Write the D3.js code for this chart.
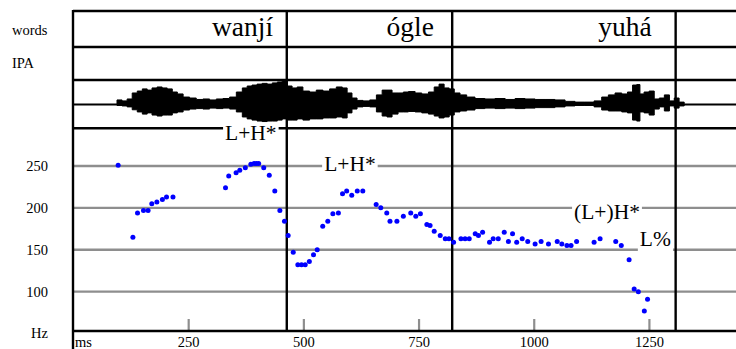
<!DOCTYPE html>
<html>
<head>
<meta charset="utf-8">
<script src="https://cdn.jsdelivr.net/npm/d3@7"></script>
<style>
  body { margin: 0; background: #fff; }
  svg { display: block; }
  text { font-family: "Liberation Serif", "Times New Roman", serif; fill: #000; }
</style>
</head>
<body>
<svg id="chart" width="736" height="349"></svg>
<script>
// ---- data ----
// word tier
const wordLabels = ["wanjí", "ógle", "yuhá"];
const wordCentersMs = [368, 732, 1198];
const wordBoundariesMs = [464, 823, 1308];

// tone labels (ToBI), placed at time / pitch
const toneLabels = ["L+H*", "L+H*", "(L+)H*", "L%"];
const toneMs = [386, 601, 1159, 1264];
const toneHz = [290, 253, 195, 162.5];

// pitch track (ms, Hz)
const pitchMs = [98, 130, 140, 153, 163, 171, 182, 194, 203, 217,
  331, 338, 354, 362, 374, 386, 393, 398, 403, 414, 426, 438, 449, 459, 467, 478,
  488, 496, 504, 513, 522, 530, 542, 553, 564, 576, 585, 594, 605, 617, 629,
  658, 668, 681, 688, 703, 717, 733, 744, 754, 768, 775, 784, 797, 808, 816, 826,
  842, 851, 860, 873, 880, 889, 904, 912, 923, 936, 945, 954, 963, 975, 987,
  1003, 1016, 1032, 1051, 1061, 1072, 1081, 1093, 1131, 1144, 1178, 1190,
  1207, 1218, 1227, 1240, 1247];
const pitchHz = [251, 165, 194, 197, 197, 205, 207, 210, 213, 213,
  224, 238, 242, 245, 248, 252, 253, 253, 253, 248, 239, 220, 197, 184, 167, 147,
  132, 132, 132, 136, 144, 150, 178, 184, 193, 194, 217, 220, 215, 220, 220,
  204, 200, 194, 184, 184, 190, 194, 190, 193, 180, 179, 172, 167, 163, 163, 159,
  163, 163, 163, 169, 167, 171, 159, 163, 163, 171, 160, 169, 159, 163, 160,
  157, 160, 157, 160, 157, 155, 155, 160, 159, 163, 160, 155,
  138, 103, 100, 77, 91];

// waveform envelope (ms, positive / negative peak, % of full scale)
const waveMs = [90, 101, 112, 123, 134, 145, 156, 166, 177, 188,
  199, 210, 221, 232, 246, 260, 275, 289, 304, 318,
  333, 347, 362, 373, 383, 394, 405, 416, 427, 438,
  449, 459, 470, 481, 492, 506, 521, 535, 550, 564,
  579, 590, 600, 611, 622, 637, 651, 666, 676, 687,
  698, 713, 721, 735, 750, 764, 779, 789, 800, 811,
  822, 833, 847, 862, 883, 905, 927, 949, 970, 992,
  1014, 1035, 1057, 1079, 1100, 1122, 1140, 1155, 1169, 1184,
  1198, 1209, 1220, 1227, 1234, 1245, 1256, 1267, 1278, 1289,
  1300, 1310, 1321, 1332];
const waveUp = [0, 19, 15, 23, 48, 56, 65, 60, 69, 73,
  69, 65, 52, 44, 31, 27, 21, 23, 19, 23,
  25, 31, 52, 69, 77, 81, 85, 88, 85, 90,
  94, 100, 77, 69, 73, 56, 52, 60, 56, 65,
  73, 69, 48, 27, 17, 15, 19, 40, 60, 60,
  48, 48, 52, 54, 48, 44, 52, 73, 85, 69,
  65, 48, 40, 31, 25, 23, 25, 21, 25, 23,
  21, 21, 19, 13, 10, 10, 15, 31, 40, 48,
  44, 52, 81, 83, 44, 52, 56, 23, 27, 40,
  15, 27, 10, 0];
const waveDown = [0, 4, 6, 10, 22, 31, 40, 35, 44, 48,
  44, 44, 35, 31, 23, 19, 17, 19, 15, 17,
  15, 19, 31, 52, 60, 65, 69, 71, 69, 69,
  65, 60, 65, 65, 60, 65, 60, 60, 56, 56,
  52, 56, 35, 19, 10, 8, 10, 31, 48, 52,
  40, 31, 31, 29, 31, 35, 40, 48, 56, 52,
  44, 31, 27, 23, 17, 15, 17, 15, 17, 15,
  13, 13, 10, 6, 4, 4, 10, 23, 27, 27,
  31, 35, 65, 69, 31, 35, 44, 19, 10, 27,
  6, 15, 6, 0];

// axes
const hzTicks = [100, 150, 200, 250];
const msTicks = [250, 500, 750, 1000, 1250];

// ---- layout ----
const L = 73, R = 736;
const tierTop = 11, wordsBottom = 47, ipaBottom = 80, waveBottom = 128.3, axisY = 331;
const ink = "#000", grey = "#8e8e8e", blue = "#0000ff";
const serif = "'Liberation Serif', 'Times New Roman', serif";

const svg = d3.select("#chart");
const x = d3.scaleLinear().domain([0, 1439]).range([L, R]);
const y = d3.scaleLinear().domain([53, 295]).range([axisY, waveBottom]);
const amp = d3.scaleLinear().domain([-100, 100]).range([128.5, 80.5]);

// Hz grid lines
svg.append("g").selectAll("line").data(hzTicks).join("line")
  .attr("x1", L).attr("x2", R)
  .attr("y1", d => y(d)).attr("y2", d => y(d))
  .attr("stroke", grey).attr("stroke-width", 2.4);

// time axis: grey ticks rising from the baseline
const xAxis = svg.append("g").attr("transform", `translate(0,${axisY})`)
  .call(d3.axisBottom(x).tickValues(msTicks).tickFormat(d3.format("d"))
    .tickSizeInner(-12).tickSizeOuter(0).tickPadding(6));
xAxis.select(".domain").remove();
xAxis.selectAll(".tick line").attr("stroke", grey).attr("stroke-width", 2.2);
xAxis.selectAll(".tick text").attr("font-size", 14.5).style("font-family", serif);

// Hz labels
const yAxis = svg.append("g").attr("transform", `translate(${L},0)`)
  .call(d3.axisLeft(y).tickValues(hzTicks).tickSize(0).tickPadding(25));
yAxis.select(".domain").remove();
yAxis.selectAll(".tick text").attr("font-size", 14.5).style("font-family", serif);

svg.append("text").attr("x", 48).attr("y", 338).attr("text-anchor", "end")
  .attr("font-size", 14.5).text("Hz");
svg.append("text").attr("x", 75).attr("y", 347)
  .attr("font-size", 14.5).text("ms");

// waveform
const wave = waveMs.map((t, i) => ({ t, up: waveUp[i], down: waveDown[i] }));
svg.append("path").datum(wave)
  .attr("d", d3.area().curve(d3.curveStep)
    .x(d => x(d.t)).y0(d => amp(-d.down)).y1(d => amp(d.up)))
  .attr("fill", ink).attr("stroke", ink).attr("stroke-width", 1);
svg.append("line").attr("x1", L).attr("x2", R)
  .attr("y1", amp(0)).attr("y2", amp(0))
  .attr("stroke", ink).attr("stroke-width", 2.2);

// tier frame
const frame = svg.append("g").attr("stroke", ink).attr("stroke-width", 2.4);
[tierTop, wordsBottom, ipaBottom, waveBottom, axisY].forEach(v => {
  frame.append("line").attr("x1", L).attr("x2", R).attr("y1", v).attr("y2", v);
});
frame.append("line").attr("x1", L).attr("x2", L).attr("y1", tierTop - 1).attr("y2", 349);
frame.selectAll("line.bound").data(wordBoundariesMs).join("line")
  .attr("class", "bound")
  .attr("x1", d => x(d)).attr("x2", d => x(d))
  .attr("y1", tierTop).attr("y2", axisY);

// words
svg.append("g").selectAll("text").data(wordLabels).join("text")
  .attr("x", (d, i) => x(wordCentersMs[i])).attr("y", 36)
  .attr("text-anchor", "middle").attr("font-size", 27.5).text(d => d);

// tier names
svg.append("text").attr("x", 12).attr("y", 35).attr("font-size", 14.5).text("words");
svg.append("text").attr("x", 12).attr("y", 68).attr("font-size", 14.5).text("IPA");

// tone labels on white patches
const fs = 21.5;
const toneG = svg.append("g");
toneLabels.forEach((lab, i) => {
  const cx = x(toneMs[i]);
  const base = y(toneHz[i]) + 0.33 * fs;
  const g = toneG.append("g");
  const rect = g.append("rect").attr("fill", "#fff");
  const t = g.append("text").attr("x", cx).attr("y", base)
    .attr("text-anchor", "middle").attr("font-size", fs).text(lab);
  const bb = t.node().getBBox();
  rect.attr("x", bb.x - 2).attr("width", bb.width + 4)
    .attr("y", base - 0.72 * fs).attr("height", 0.98 * fs);
});

// pitch points
svg.append("g").selectAll("circle").data(pitchMs).join("circle")
  .attr("cx", d => x(d)).attr("cy", (d, i) => y(pitchHz[i]))
  .attr("r", 2.5).attr("fill", blue);
</script>
</body>
</html>
